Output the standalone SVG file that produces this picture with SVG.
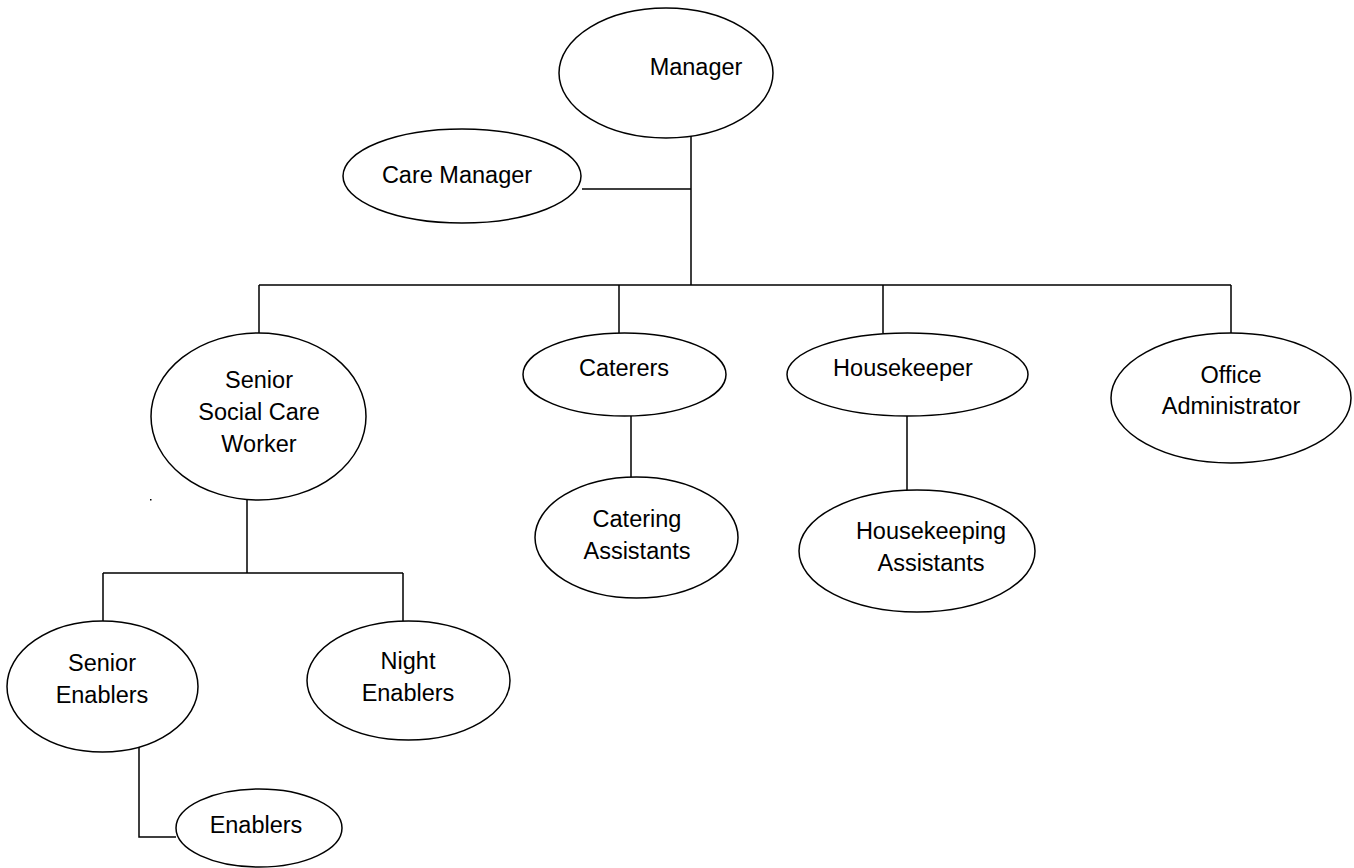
<svg xmlns="http://www.w3.org/2000/svg" width="1354" height="868" viewBox="0 0 1354 868">
<style>
.n{fill:#fff;stroke:#000;stroke-width:1.5}
.c{fill:none;stroke:#000;stroke-width:1.5}
text{font-family:"Liberation Sans",Arial,sans-serif;font-size:23.5px;fill:#000;text-anchor:middle}
</style>
<rect width="1354" height="868" fill="#fff"/>
<g id="connectors">
<path class="c" d="M691 128V285M582 189H691M259 285H1231M259 285V333M619 285V333M883 285V333M1231 285V333"/>
<path class="c" d="M631 416V477M907 416V490"/>
<path class="c" d="M247 500V573M103 573H403M103 573V621M403 573V621"/>
<path class="c" d="M139 740V837H176"/>
</g>
<rect x="150" y="499" width="1.5" height="1.5" fill="#000"/>
<g id="manager"><ellipse class="n" cx="666" cy="73" rx="107" ry="65"/><text x="696" y="75">Manager</text></g>
<g id="care-manager"><ellipse class="n" cx="462" cy="176" rx="119" ry="47"/><text x="457" y="183">Care Manager</text></g>
<g id="senior-social-care-worker"><ellipse class="n" cx="258.5" cy="416.5" rx="107.5" ry="83.5"/><text x="259" y="388">Senior</text><text x="259" y="420">Social Care</text><text x="259" y="452">Worker</text></g>
<g id="caterers"><ellipse class="n" cx="624.5" cy="374.5" rx="101.5" ry="41.5"/><text x="624" y="376">Caterers</text></g>
<g id="housekeeper"><ellipse class="n" cx="907.5" cy="374.5" rx="120.5" ry="41.5"/><text x="903" y="376">Housekeeper</text></g>
<g id="office-administrator"><ellipse class="n" cx="1231" cy="398" rx="120" ry="65"/><text x="1231" y="383">Office</text><text x="1231" y="414">Administrator</text></g>
<g id="catering-assistants"><ellipse class="n" cx="636.5" cy="537.5" rx="101.5" ry="60.5"/><text x="637" y="527">Catering</text><text x="637" y="559">Assistants</text></g>
<g id="housekeeping-assistants"><ellipse class="n" cx="917" cy="551" rx="118" ry="61"/><text x="931" y="539">Housekeeping</text><text x="931" y="571">Assistants</text></g>
<g id="senior-enablers"><ellipse class="n" cx="102.5" cy="686.5" rx="95.5" ry="65.5"/><text x="102" y="671">Senior</text><text x="102" y="703">Enablers</text></g>
<g id="night-enablers"><ellipse class="n" cx="408.5" cy="680.5" rx="101.5" ry="59.5"/><text x="408" y="669">Night</text><text x="408" y="701">Enablers</text></g>
<g id="enablers"><ellipse class="n" cx="259" cy="828" rx="83" ry="39"/><text x="256" y="833">Enablers</text></g>
</svg>
